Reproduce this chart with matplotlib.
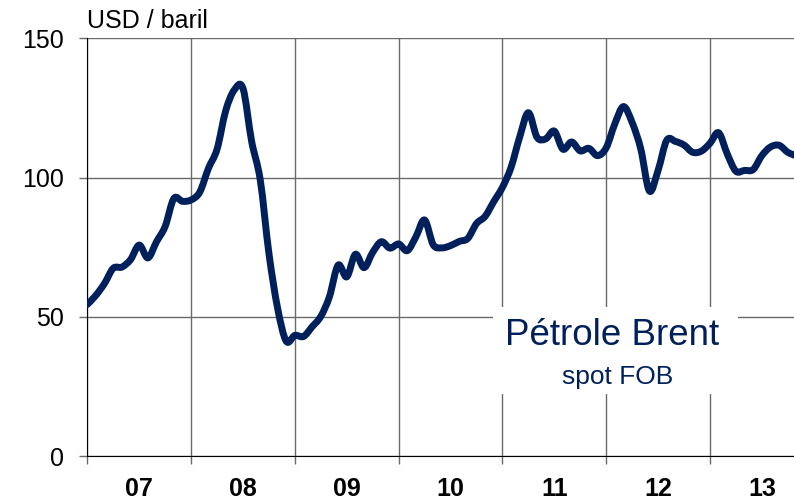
import numpy as np
import matplotlib.pyplot as plt
from matplotlib.patches import Rectangle, PathPatch
from matplotlib.path import Path

plt.rcParams['font.family'] = ['Liberation Sans', 'DejaVu Sans']

# Brent spot FOB, moyennes mensuelles (USD / baril), janv. 2007 -> nov. 2013
prix_2007 = [54.5, 57.8, 62.1, 67.5, 67.9, 70.6, 75.8, 71.2, 77.0, 82.5, 92.5, 91.5]
prix_2008 = [92.0, 94.8, 103.3, 110.2, 124.0, 131.5, 132.0, 113.0, 99.1, 72.8, 53.2, 41.3]
prix_2009 = [43.4, 43.0, 46.5, 50.2, 57.3, 68.6, 64.4, 72.5, 67.7, 73.2, 77.0, 74.7]
prix_2010 = [76.2, 73.8, 78.8, 84.8, 75.9, 74.8, 75.6, 77.1, 78.2, 83.5, 86.1, 91.4]
prix_2011 = [96.5, 103.7, 114.6, 123.3, 114.5, 113.9, 116.7, 110.2, 112.8, 109.6, 110.5, 107.9]
prix_2012 = [110.7, 119.3, 125.5, 119.8, 110.3, 95.2, 102.6, 113.4, 113.0, 111.7, 109.1, 109.5]
prix_2013 = [112.3, 116.1, 108.5, 102.3, 102.6, 102.9, 107.9, 111.0, 111.6, 109.1, 107.8]

annees = [2007, 2008, 2009, 2010, 2011, 2012, 2013]
etiquettes = ['07', '08', '09', '10', '11', '12', '13']

prix = prix_2007 + prix_2008 + prix_2009 + prix_2010 + prix_2011 + prix_2012 + prix_2013
temps = 2007 + np.arange(len(prix)) / 12.0

bleu = '#00205B'


def courbe_lissee(x, y):
    # ligne lissée façon Excel : segments de Bézier cubiques passant par chaque point
    pts = np.column_stack([x, y])
    n = len(pts)
    verts = [pts[0]]
    codes = [Path.MOVETO]
    for i in range(n - 1):
        p0 = pts[max(i - 1, 0)]
        p1 = pts[i]
        p2 = pts[i + 1]
        p3 = pts[min(i + 2, n - 1)]
        c1 = p1 + (p2 - p0) / 6.0
        c2 = p2 - (p3 - p1) / 6.0
        verts += [c1, c2, p2]
        codes += [Path.CURVE4] * 3
    return Path(verts, codes)


fig = plt.figure(figsize=(7.94, 5.0), dpi=100)
ax = fig.add_axes([0.110, 0.0874, 0.890, 0.836])

ax.add_patch(PathPatch(courbe_lissee(temps, prix), facecolor='none',
                       edgecolor=bleu, lw=5.0, joinstyle='round',
                       capstyle='round', zorder=4))

ax.set_xlim(2007.0, 2013.81)
ax.set_ylim(0, 150)

# grille
ax.set_yticks([0, 50, 100, 150])
ax.set_yticklabels(['0', '50', '100', '150'])
ax.set_xticks(annees)
ax.set_xticklabels([])
ax.set_xticks([a + 0.5 for a in annees], minor=True)
ax.set_xticklabels(etiquettes, minor=True, fontweight='bold')
ax.grid(True, which='major', color='#6a6a6a', lw=1.0, zorder=1)

ax.tick_params(axis='y', which='major', length=6, width=1, color='#6a6a6a',
               labelsize=18, pad=11)
ax.tick_params(axis='x', which='major', length=6, width=1, color='#6a6a6a')
ax.tick_params(axis='x', which='minor', length=0, labelsize=18, pad=15)

for s in ['top', 'right']:
    ax.spines[s].set_visible(False)
ax.spines['left'].set_color('black')
ax.spines['bottom'].set_color('black')
ax.spines['left'].set_zorder(3)
ax.spines['bottom'].set_zorder(3)

# cadre de la légende
ax.add_patch(Rectangle((2010.91, 22.4), 2.36, 31.2, facecolor='white',
                       edgecolor='none', zorder=2))
ax.text(2012.06, 43.5, 'Pétrole Brent', color=bleu, fontsize=26.5,
        ha='center', va='center', zorder=5)
ax.text(2012.11, 28.5, 'spot FOB', color=bleu, fontsize=19,
        ha='center', va='center', zorder=5)

ax.text(0.0, 1.012, 'USD / baril', transform=ax.transAxes, fontsize=18,
        ha='left', va='bottom')

fig.savefig('out.png', dpi=100)
